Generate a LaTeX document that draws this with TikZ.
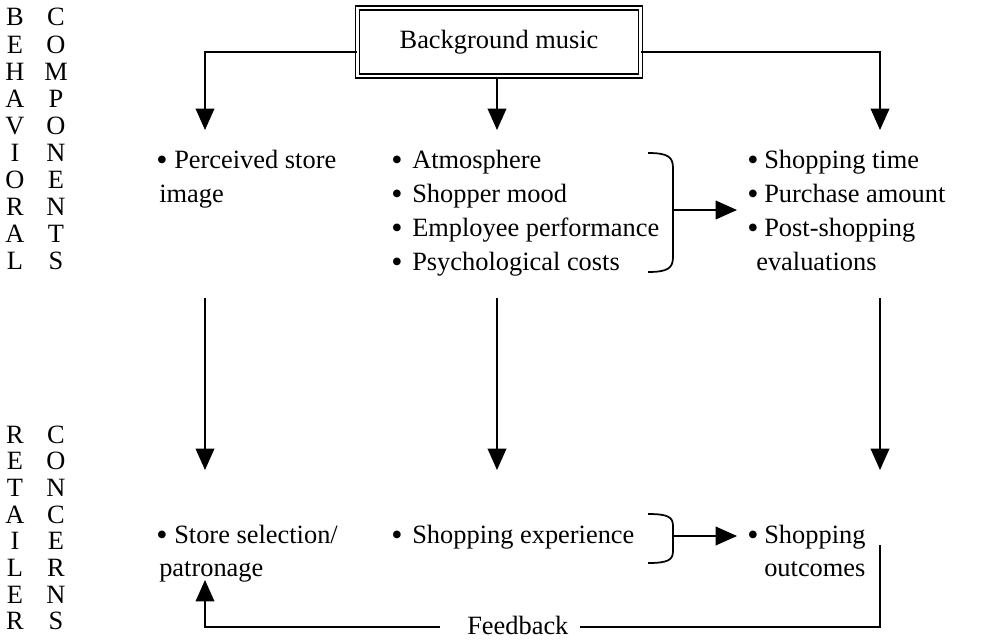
\documentclass[tikz,border=0pt]{standalone}
\usepackage{fontspec}
\setmainfont{Liberation Serif}
\usetikzlibrary{arrows.meta}
\begin{document}
\begin{tikzpicture}[x=0.75pt,y=-0.75pt,
  font=\fontsize{19.8}{24}\selectfont,
  txt/.style={anchor=base west, inner sep=0pt},
  bul/.style={anchor=base west, inner sep=0pt, font=\fontsize{24}{24}\selectfont, yshift=-1.5pt},
  letr/.style={anchor=base, inner sep=0pt},
  conn/.style={line width=1.1pt},
  arr/.style={conn, -{Triangle[width=14pt,length=16pt]}},
  brc/.style={line width=1.3pt},
  mainbox/.style={draw, double, line width=1pt, double distance=2.2pt,
    minimum width=212pt, minimum height=51pt, inner sep=0pt}]
\useasboundingbox (0,0) rectangle (994,642);

% side labels
\foreach \a/\b [count=\i from 0] in {B/C,E/O,H/M,A/P,V/O,I/N,O/E,R/N,A/T,L/S} {
  \node[letr] (ba\i) at (15,{26+27.1*\i}) {\a};
  \node[letr] (bb\i) at (56,{26+27.1*\i}) {\b};
}
\foreach \a/\b [count=\i from 0] in {R/C,E/O,T/N,A/C,I/E,L/R,E/N,R/S} {
  \node[letr] (ra\i) at (15,{443+26.7*\i}) {\a};
  \node[letr] (rb\i) at (56,{443+26.7*\i}) {\b};
}

% top box
\node[mainbox] (bg) at (499,42) {Background music};

% arrow tips / coordinates
\coordinate (tl) at (205,130);
\coordinate (tm) at (497,130);
\coordinate (tr) at (880,130);

\draw[arr] (bg.west |- 0,52) -| (tl);
\draw[arr] (bg.south -| tm) -- (tm);
\draw[arr] (bg.east |- 0,52) -| (tr);

% row 1 texts
\node[bul] (b1) at (156,168) {•};
\node[txt] (p1) at (174,168) {Perceived store};
\node[txt] (p2) at (159,202) {image};

\node[bul] (b2) at (391,168) {•};
\node[txt] (m1) at (412,168) {Atmosphere};
\node[bul] (b3) at (391,202) {•};
\node[txt] (m2) at (412,202) {Shopper mood};
\node[bul] (b4) at (391,236) {•};
\node[txt] (m3) at (412,236) {Employee performance};
\node[bul] (b5) at (391,270) {•};
\node[txt] (m4) at (412,270) {Psychological costs};

\node[bul] (b6) at (747,168) {•};
\node[txt] (r1) at (764,168) {Shopping time};
\node[bul] (b7) at (747,202) {•};
\node[txt] (r2) at (764,202) {Purchase amount};
\node[bul] (b8) at (747,236) {•};
\node[txt] (r3) at (764,236) {Post-shopping};
\node[txt] (r4) at (756,270) {evaluations};

% brace 1
\draw[brc] (648,153) .. controls (668,153) and (673,157) .. (673,168)
  -- (673,257) .. controls (673,268) and (668,272) .. (648,272);
\coordinate (br1) at (673,210);
\coordinate (br1t) at (737,210);
\draw[arr] (br1) -- (br1t);

% vertical arrows
\coordinate (vl1) at (205,298);
\coordinate (vl2) at (205,470);
\coordinate (vm1) at (497,298);
\coordinate (vm2) at (497,470);
\coordinate (vr1) at (880,298);
\coordinate (vr2) at (880,470);
\draw[arr] (vl1) -- (vl2);
\draw[arr] (vm1) -- (vm2);
\draw[arr] (vr1) -- (vr2);

% row 2 texts
\node[bul] (b9) at (156,543) {•};
\node[txt] (s1) at (174,543) {Store selection/};
\node[txt] (s2) at (159,576) {patronage};

\node[bul] (b10) at (391,543) {•};
\node[txt] (e1) at (412,543) {Shopping experience};

\node[bul] (b11) at (747,543) {•};
\node[txt] (o1) at (764,543) {Shopping};
\node[txt] (o2) at (764,576) {outcomes};

% brace 2
\draw[brc] (648,514) .. controls (668,514) and (673,517) .. (673,526)
  -- (673,551) .. controls (673,560) and (668,563) .. (648,563);
\coordinate (br2) at (673,536);
\coordinate (br2t) at (737,536);
\draw[arr] (br2) -- (br2t);

% feedback
\node[txt] (fb) at (467,634) {Feedback};
\coordinate (fl) at (440,627);
\coordinate (fr) at (580,627);
\coordinate (ftip) at (205,580);
\coordinate (fso) at (880,545);
\draw[arr] (fl) -| (ftip);
\draw[conn] (fr) -| (fso);
\end{tikzpicture}
\end{document}
